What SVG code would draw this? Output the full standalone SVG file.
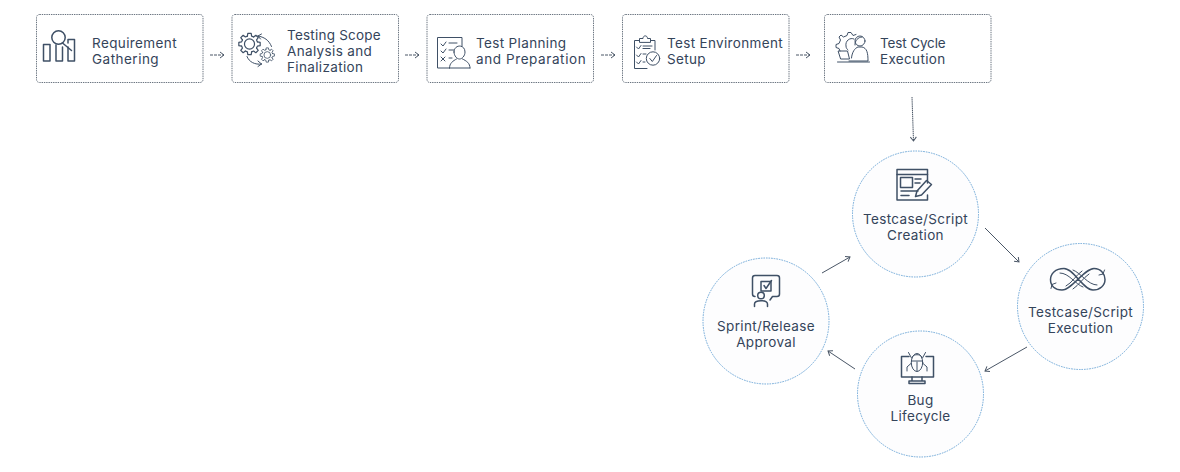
<svg xmlns="http://www.w3.org/2000/svg" width="1180" height="472" viewBox="0 0 1180 472">
<style>
.box{fill:#fff;stroke:#5a6573;stroke-width:.9;stroke-dasharray:1.4 .9}
.circ{fill:#fdfdfe;stroke:#6fa8d8;stroke-width:1;stroke-dasharray:1.6 1}
.t{font-family:"Inter","Liberation Sans",sans-serif;font-size:13.5px;fill:#34445a;letter-spacing:.35px}
.m{text-anchor:middle}
.ic{fill:none;stroke:#3f5066;stroke-width:1.5;stroke-linecap:round;stroke-linejoin:round}
.ict{fill:none;stroke:#3f5066;stroke-width:1;stroke-linecap:round;stroke-linejoin:round}
.c{fill:none;stroke:#4a5666;stroke-width:1;marker-end:url(#a)}
.cd{stroke-dasharray:3 1}
.cv{stroke-dasharray:1.5 .6}
</style>
<defs>
<marker id="a" viewBox="0 0 8 8" refX="7" refY="4" markerWidth="8" markerHeight="8" markerUnits="userSpaceOnUse" orient="auto"><path d="M3 1 L7 4 L3 7" fill="none" stroke="#4a5666" stroke-width="1"/></marker>
<path id="tooth" d="M6.57-1.76L8.890-1.410V1.410L6.570 1.760L5.890 3.400"/>
<g id="gear">
<use href="#tooth"/><use href="#tooth" transform="rotate(45)"/><use href="#tooth" transform="rotate(90)"/><use href="#tooth" transform="rotate(135)"/><use href="#tooth" transform="rotate(180)"/><use href="#tooth" transform="rotate(225)"/><use href="#tooth" transform="rotate(270)"/><use href="#tooth" transform="rotate(315)"/>
<circle r="4.200"/>
</g>
</defs>
<rect width="1180" height="472" fill="#fff"/>
<g id="connectors">
<path class="c cd" d="M210 55H224"/>
<path class="c cd" d="M405 55H419"/>
<path class="c cd" d="M601 55H615"/>
<path class="c cd" d="M796 55H810"/>
<path class="c cv" d="M912 97L913.500 141"/>
<path class="c" d="M985 228L1019 262"/>
<path class="c" d="M1027 347L985 371"/>
<path class="c" d="M855 369L828 351"/>
<path class="c" d="M822 273L850 257"/>
</g>
<g id="n1">
<rect class="box" x="36.500" y="14.500" width="166.500" height="68" rx="3"/>
<g class="ic"><rect x="43.500" y="44.500" width="6.500" height="16.500"/><path d="M56 45V61H62.500V47"/><path d="M68 43V39.500H74.500V61H68V47"/><circle cx="58.500" cy="37.500" r="6.700"/><path d="M62.500 43L71.500 50.500"/></g>
<text class="t" x="92" y="47.500" textLength="85">Requirement</text><text class="t" x="92" y="64" textLength="67">Gathering</text>
</g>
<g id="n2">
<rect class="box" x="232" y="14.500" width="166.500" height="68" rx="3"/>
<g class="ict"><use href="#gear" transform="translate(249.500 44) scale(1.200)"/><use href="#gear" transform="translate(267.300 55) scale(.8)"/><path d="M258 36C264 37 269 40 271.500 46.500M258 36L261.500 34M258 36L260.500 39M247 56.500C249 62 255 65 261.500 64M261.500 64L258 61M261.500 64L258 66.500"/></g>
<text class="t" x="287" y="39.500" textLength="94">Testing Scope</text><text class="t" x="287" y="55.500">Analysis and</text><text class="t" x="287" y="72">Finalization</text>
</g>
<g id="n3">
<rect class="box" x="427" y="14.500" width="166.500" height="68" rx="3"/>
<g class="ict"><path d="M462 46V37.500H437.500V68H449.500"/><path d="M441 44L443 46L446 42M449 43H457M441 51L443 53L446 49M449 50H454M441 57L445 61M445 57L441 61M449 58H452"/><path d="M454 52C454 44 465 44 465 52C465 56 462 59 459.500 59C457 59 454 56 454 52Z"/><path d="M449.500 68C449.500 63 453 61 456.500 59M470 68C470 63 466.500 61 462.500 59M449.500 68H470"/></g>
<text class="t" x="476" y="47.500">Test Planning</text><text class="t" x="476" y="64" textLength="110">and Preparation</text>
</g>
<g id="n4">
<rect class="box" x="622.500" y="14.500" width="166.500" height="68" rx="3"/>
<g class="ict"><path d="M639.500 40.500H634.500V68.500H647M650.500 40.500H655V50"/><path d="M639.500 42V38.500H643C643 35 647.500 35 647.500 38.500H650.500V42Z"/><path d="M636.500 47L638.500 49L641 45.500M643 46H652M643 48.500H650M636.500 55L638.500 57L641 53.500M643 54H646M636.500 62L638.500 64L641 60.500M643 62H645"/><circle cx="653" cy="58.500" r="6.700"/><path d="M649.800 58.500L652.300 61.500L656.500 55.500"/></g>
<text class="t" x="667" y="47.500" textLength="116">Test Environment</text><text class="t" x="667" y="64">Setup</text>
</g>
<g id="n5">
<rect class="box" x="824.500" y="14.500" width="166.500" height="68" rx="3"/>
<g class="ict"><path d="M856 34.500L853 35.500L851 32.500H848L847 35.500L843.500 37L841 35L839 37L840.500 40L839 43.500L836 44.500V47.500L839 48.500L840 51"/><path d="M854 39C850 37 845 41 846 46C846 48 847 49 848 50"/><circle cx="860" cy="41" r="5"/><path d="M855 45C854.500 41 858 37 862 37"/><path d="M851.500 58C852 52 855 48 858 47L862 47C867 48 868 53 868 61H849"/><path d="M838.500 51H847.500L849.500 59H841ZM837.500 62H869.500"/></g>
<text class="t" x="880" y="47.500" textLength="66">Test Cycle</text><text class="t" x="880" y="64" textLength="65.500">Execution</text>
</g>
<g id="c1">
<circle class="circ" cx="915.500" cy="214" r="63"/>
<g class="ic"><path d="M927.500 183V169.500H897V200H922M927.500 195V200H922"/><path d="M897 174.500H927.500"/><rect x="900.500" y="177.500" width="12" height="10"/><path d="M915 179H921M915 183H920M901 191H918M901 195.500H909"/><path d="M915.500 196.500L917 191L926.500 180.500L931.500 184.500L921.500 195Z"/></g>
<text class="t m" x="915.500" y="224">Testcase/Script</text><text class="t m" x="915.500" y="240">Creation</text>
</g>
<g id="c2">
<circle class="circ" cx="1080.500" cy="306.500" r="63"/>
<g class="ic" stroke-width="1.800"><path d="M1064 268.500C1055 268.500 1050.500 274 1050.500 279.500C1050.500 286 1055 290 1062 290C1072 290 1084 268.500 1094 268.500C1101 268.500 1105 274 1105 279.500C1105 285.500 1100 290 1093 290C1083 290 1074 268.500 1064 268.500Z"/></g>
<g class="ict"><path d="M1060 273C1069 273 1075 284 1083 287M1097 285C1088 285 1081 273 1073 270M1082 271C1076 275 1072 283 1066 286M1089 274C1083 278 1079 285 1073 289"/><path d="M1099 275L1103 274L1104.500 270M1056 283L1052 284.500L1051 288.500"/></g>
<text class="t m" x="1080.500" y="317">Testcase/Script</text><text class="t m" x="1080.500" y="333">Execution</text>
</g>
<g id="c3">
<circle class="circ" cx="920.500" cy="394" r="63"/>
<g class="ic" stroke-width="1.300"><path d="M909 356.500H901.500V377H933.500V356.500H926"/><path d="M912 377V381M922 377V381M909 381H925V383.500H909Z"/></g>
<g class="ict"><ellipse cx="917" cy="362.500" rx="5.700" ry="9"/><path d="M911.500 361H922.500M917 362V371M911.500 358L908.500 352.500M922.500 358L925.500 352.500M911.500 363L907 367V371M922.500 363L927 367V371M912.500 356.500C914 354 920 354 921.500 356.500"/></g>
<text class="t m" x="920.500" y="405">Bug</text><text class="t m" x="920.500" y="421">Lifecycle</text>
</g>
<g id="c4">
<circle class="circ" cx="766" cy="321" r="63"/>
<g class="ic" stroke-width="1.300"><path d="M755 296.500C753.500 296.500 752.500 295.500 752.500 294V278C752.500 276.500 753.500 275.500 755 275.500H777C778.500 275.500 779.500 276.500 779.500 278V294C779.500 295.500 778.500 296.500 777 296.500H772.500L770 300"/><rect x="761" y="281.500" width="10" height="9.500"/><path d="M764 285.500L766 288.500L771.500 280.500"/><circle cx="761" cy="295.500" r="3.300"/><path d="M754.500 306.500V304C754.500 299.500 767.500 299.500 767.500 304V306.500"/></g>
<text class="t m" x="766" y="331">Sprint/Release</text><text class="t m" x="766" y="347">Approval</text>
</g>
</svg>
